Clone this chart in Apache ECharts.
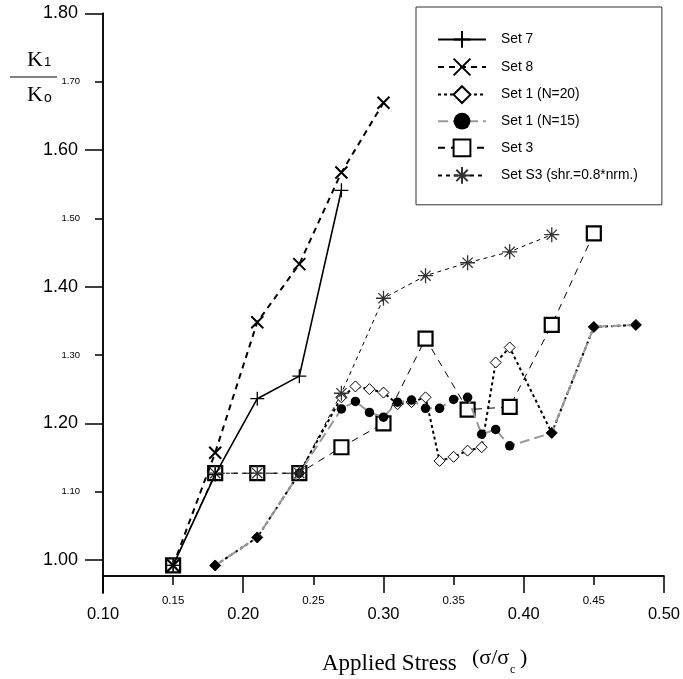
<!DOCTYPE html>
<html><head><meta charset="utf-8">
<script src="https://cdn.jsdelivr.net/npm/echarts@6/dist/echarts.min.js"></script>
<style>html,body{margin:0;padding:0;background:#fff}#c{width:683px;height:679px}</style>
</head><body><div id="c"></div>
<script>
// ---- data ----
const set7X = [0.15, 0.18, 0.21, 0.24, 0.27];
const set7Y = [0.992, 1.125, 1.236, 1.269, 1.541];
const set8X = [0.15, 0.18, 0.21, 0.24, 0.27, 0.30];
const set8Y = [0.992, 1.157, 1.348, 1.433, 1.567, 1.669];
const set1n20X = [0.18, 0.21, 0.24, 0.27, 0.28, 0.29, 0.30, 0.31, 0.32, 0.33, 0.34, 0.35, 0.36, 0.37, 0.38, 0.39, 0.42, 0.45, 0.48];
const set1n20Y = [0.992, 1.033, 1.127, 1.238, 1.254, 1.250, 1.245, 1.228, 1.231, 1.238, 1.145, 1.151, 1.160, 1.165, 1.289, 1.311, 1.186, 1.341, 1.344];
const set1n15X = [0.18, 0.21, 0.24, 0.27, 0.28, 0.29, 0.30, 0.31, 0.32, 0.33, 0.34, 0.35, 0.36, 0.37, 0.38, 0.39, 0.42, 0.45, 0.48];
const set1n15Y = [0.992, 1.033, 1.127, 1.221, 1.232, 1.216, 1.209, 1.231, 1.234, 1.222, 1.222, 1.235, 1.238, 1.184, 1.191, 1.167, 1.186, 1.341, 1.344];
const set3X = [0.15, 0.18, 0.21, 0.24, 0.27, 0.30, 0.33, 0.36, 0.39, 0.42, 0.45];
const set3Y = [0.992, 1.127, 1.127, 1.127, 1.165, 1.200, 1.324, 1.220, 1.224, 1.344, 1.478];
const setS3X = [0.15, 0.18, 0.21, 0.24, 0.27, 0.30, 0.33, 0.36, 0.39, 0.42];
const setS3Y = [0.992, 1.127, 1.127, 1.127, 1.244, 1.383, 1.416, 1.435, 1.451, 1.476];
const seriesNames = ['Set 7', 'Set 8', 'Set 1 (N=20)', 'Set 1 (N=15)', 'Set 3', 'Set S3 (shr.=0.8*nrm.)'];
const xMajorTicks = [0.10, 0.20, 0.30, 0.40, 0.50];
const xMinorTicks = [0.15, 0.25, 0.35, 0.45];
const yMajorTicks = [1.00, 1.20, 1.40, 1.60, 1.80];
const yMinorTicks = [1.10, 1.30, 1.50, 1.70];
// x positions where both Set 1 runs coincide (drawn as filled diamonds)
const set1SharedDiamondX = [0.18, 0.21, 0.42, 0.45, 0.48];

// ---- chart ----
const SANS = '"Liberation Sans", Arial, sans-serif';
const SERIF = '"Liberation Serif", "Times New Roman", serif';
const pair = (xs, ys) => xs.map((x, i) => [x, ys[i]]);
const PLUS = 'path://M5,0L5,10M0,5L10,5';
const CROSS = 'path://M0,0L10,10M10,0L0,10';
const STAR = 'path://M5,0L5,10M0,5L10,5M1.6,1.6L8.4,8.4M8.4,1.6L1.6,8.4';

const chart = echarts.init(document.getElementById('c'), null, {renderer: 'canvas'});

const baseX = {
  type: 'value', min: 0.1, max: 0.5, position: 'bottom', offset: -17,
  splitLine: {show: false},
  axisLine: {show: true, lineStyle: {color: '#000', width: 1.5}}
};
const baseY = {
  type: 'value', min: 0.9517, max: 1.8, position: 'left',
  splitLine: {show: false},
  axisLine: {show: true, lineStyle: {color: '#000', width: 1.5}}
};
const fmt = v => Number(v).toFixed(2);

const option = {
  animation: false,
  backgroundColor: '#fff',
  grid: {left: 103, right: 17, top: 13.3, bottom: 86, containLabel: false},
  xAxis: [
    Object.assign({}, baseX, {
      axisTick: {show: true, customValues: xMajorTicks, length: 17, lineStyle: {color: '#000', width: 1.5}},
      axisLabel: {customValues: xMajorTicks, formatter: fmt, fontSize: 16.5, margin: 30, color: '#000', fontFamily: SANS}
    }),
    Object.assign({}, baseX, {
      axisTick: {show: true, customValues: xMinorTicks, length: 9, lineStyle: {color: '#000', width: 1.5}},
      axisLabel: {customValues: xMinorTicks, formatter: fmt, fontSize: 11.5, margin: 18.5, color: '#000', fontFamily: SANS}
    })
  ],
  yAxis: [
    Object.assign({}, baseY, {
      axisTick: {show: true, customValues: yMajorTicks, length: 18, lineStyle: {color: '#000', width: 1.5}},
      axisLabel: {customValues: yMajorTicks, formatter: fmt, fontSize: 18, margin: 25, color: '#000', fontFamily: SANS}
    }),
    Object.assign({}, baseY, {
      axisTick: {show: true, customValues: yMinorTicks, length: 8, lineStyle: {color: '#000', width: 1.5}},
      axisLabel: {customValues: yMinorTicks, formatter: fmt, fontSize: 9.5, margin: 23, color: '#000', fontFamily: SANS}
    })
  ],
  legend: {
    data: seriesNames,
    orient: 'vertical',
    left: 416, top: 7,
    itemWidth: 48, itemHeight: 21, itemGap: 8.8,
    padding: [23, 24, 20, 21],
    borderColor: '#333', borderWidth: 1,
    selectedMode: false,
    textStyle: {fontFamily: SANS, fontSize: 13.8, color: '#000', padding: [0, 0, 0, 10]}
  },
  series: [
    {
      name: seriesNames[4], type: 'line', data: pair(set3X, set3Y), z: 2,
      symbol: 'rect', symbolSize: 14,
      itemStyle: {color: '#fff', borderColor: '#000', borderWidth: 2.2},
      lineStyle: {color: '#000', width: 1, type: [7, 6]}
    },
    {
      name: seriesNames[2], type: 'line', data: pair(set1n20X, set1n20Y), z: 3,
      symbol: 'diamond', symbolSize: 11,
      itemStyle: {color: '#fff', borderColor: '#000', borderWidth: 1},
      lineStyle: {color: '#000', width: 2, type: [3, 3]}
    },
    {
      name: seriesNames[3], type: 'line', z: 4,
      data: pair(set1n15X, set1n15Y).map(p => set1SharedDiamondX.includes(p[0]) ? {value: p, symbol: 'diamond', symbolSize: 11} : p),
      symbol: 'circle', symbolSize: 9.5,
      itemStyle: {color: '#000', borderColor: '#000', borderWidth: 0},
      lineStyle: {color: '#999', width: 2, type: [10, 5]}
    },
    {
      name: seriesNames[5], type: 'line', data: pair(setS3X, setS3Y), z: 5,
      symbol: STAR, symbolSize: 15,
      itemStyle: {color: '#000', borderColor: '#333', borderWidth: 1.3},
      lineStyle: {color: '#000', width: 1, type: [4, 4]}
    },
    {
      name: seriesNames[0], type: 'line', data: pair(set7X, set7Y), z: 6,
      symbol: PLUS, symbolSize: 14,
      itemStyle: {color: '#000', borderColor: '#000', borderWidth: 1.3},
      lineStyle: {color: '#000', width: 1.6, type: 'solid'}
    },
    {
      name: seriesNames[1], type: 'line', data: pair(set8X, set8Y), z: 7,
      symbol: CROSS, symbolSize: 12,
      itemStyle: {color: '#000', borderColor: '#000', borderWidth: 2},
      lineStyle: {color: '#000', width: 2, type: [6, 5]}
    }
  ],
  graphic: [
    {type: 'text', x: 27, y: 49, style: {text: 'K', fontSize: 22, fontFamily: SERIF, fill: '#000', verticalAlign: 'top'}},
    {type: 'text', x: 44, y: 56, style: {text: '1', fontSize: 13, fontFamily: SANS, fill: '#000', verticalAlign: 'top'}},
    {type: 'line', shape: {x1: 10, y1: 77, x2: 57, y2: 77}, style: {stroke: '#000', lineWidth: 1}},
    {type: 'text', x: 27, y: 84, style: {text: 'K', fontSize: 22, fontFamily: SERIF, fill: '#000', verticalAlign: 'top'}},
    {type: 'text', x: 44, y: 91, style: {text: 'o', fontSize: 14, fontFamily: SANS, fill: '#000', verticalAlign: 'top'}},
    {type: 'text', x: 322, y: 652, style: {text: 'Applied Stress', fontSize: 23, fontFamily: SERIF, fill: '#000', verticalAlign: 'top'}},
    {type: 'text', x: 472, y: 647, style: {text: '(σ/σ', fontSize: 22, fontFamily: SERIF, fill: '#000', verticalAlign: 'top'}},
    {type: 'text', x: 510, y: 664, style: {text: 'c', fontSize: 12, fontFamily: SERIF, fill: '#000', verticalAlign: 'top'}},
    {type: 'text', x: 520, y: 647, style: {text: ')', fontSize: 22, fontFamily: SERIF, fill: '#000', verticalAlign: 'top'}}
  ]
};
chart.setOption(option);
</script>
</body></html>
